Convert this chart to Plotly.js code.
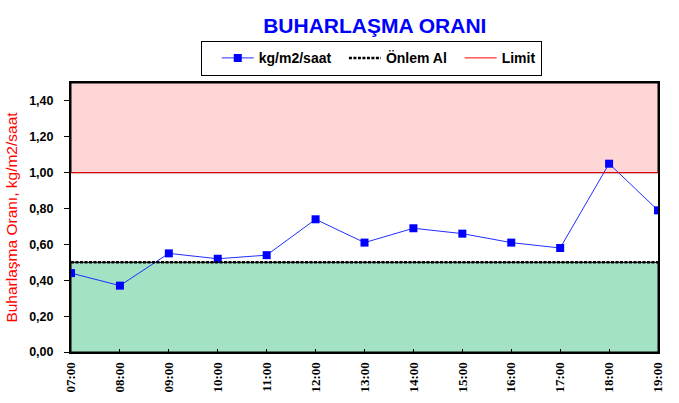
<!DOCTYPE html>
<html>
<head>
<meta charset="utf-8">
<script src="https://cdn.plot.ly/plotly-3.0.1.min.js"></script>
<style>
  html, body { margin: 0; padding: 0; background: #fff; }
  #chart { width: 679px; height: 403px; }
</style>
</head>
<body>
<div id="chart"></div>
<script>
// saatler ve ölçülen değerler
const hours = ['07:00', '08:00', '09:00', '10:00', '11:00', '12:00', '13:00',
               '14:00', '15:00', '16:00', '17:00', '18:00', '19:00']
const rate = [0.44, 0.37, 0.55, 0.52, 0.54, 0.74, 0.61, 0.69, 0.66, 0.61, 0.58, 1.05, 0.79]
const onlem = [0.5, 0.5, 0.5, 0.5, 0.5, 0.5, 0.5, 0.5, 0.5, 0.5, 0.5, 0.5, 0.5]
const limit = [1.0, 1.0, 1.0, 1.0, 1.0, 1.0, 1.0, 1.0, 1.0, 1.0, 1.0, 1.0, 1.0]
const safeBand = [0, 0.5]
const dangerBand = [1.0, 1.5]
const yTicks = [0, 0.2, 0.4, 0.6, 0.8, 1.0, 1.2, 1.4]

// lejant boşlukları için
const pad = '\u00a0\u00a0'

const traces = [
  {
    x: hours, y: rate, name: 'kg/m2/saat' + pad, type: 'scatter', mode: 'lines+markers',
    line: { color: '#1f2fff', width: 1 },
    marker: { color: '#0000ff', symbol: 'square', size: 8 }
  },
  {
    x: hours, y: onlem, name: 'Önlem Al' + pad, type: 'scatter', mode: 'lines',
    line: { color: '#000', width: 2.5, dash: '3px,1.5px' }
  },
  {
    x: hours, y: limit, name: 'Limit', type: 'scatter', mode: 'lines',
    line: { color: '#ff0000', width: 1 }
  }
]

const layout = {
  width: 679,
  height: 403,
  margin: { l: 71, r: 21, t: 83, b: 51 },
  paper_bgcolor: '#fff',
  plot_bgcolor: '#fff',
  separators: ',.',
  showlegend: true,
  title: {
    text: 'BUHARLAŞMA ORANI',
    font: { family: 'Liberation Sans, Arial, sans-serif', size: 21, color: '#0000ff', weight: 'bold' },
    x: 0.552, xanchor: 'center', y: 0.937, yanchor: 'middle'
  },
  legend: {
    orientation: 'h',
    x: 0.2215, xanchor: 'left',
    y: 1.155, yanchor: 'top',
    bordercolor: '#000', borderwidth: 1, bgcolor: '#fff',
    font: { family: 'Liberation Sans, Arial, sans-serif', size: 14, color: '#000', weight: 'bold' },
    title: { text: '\u00a0', side: 'left' },
    itemwidth: 32
  },
  xaxis: {
    type: 'category',
    range: [0, hours.length - 1],
    showgrid: false, zeroline: false,
    showline: true, linecolor: '#000', linewidth: 2, mirror: true,
    ticks: 'inside', ticklen: 3, tickcolor: '#000',
    tickangle: -90,
    ticklabelstandoff: 3,
    tickfont: { family: 'Liberation Serif, Times New Roman, serif', size: 13, color: '#000', weight: 'bold' }
  },
  yaxis: {
    range: [0, 1.5],
    tickvals: yTicks,
    tickformat: '.2f',
    showgrid: false, zeroline: false,
    showline: true, linecolor: '#000', linewidth: 2, mirror: true,
    ticks: 'outside', ticklen: 5, tickcolor: '#000',
    ticklabelstandoff: 8,
    tickfont: { family: 'Liberation Sans, Arial, sans-serif', size: 12.5, color: '#000', weight: 'bold' },
    title: {
      text: 'Buharlaşma Oranı, kg/m2/saat',
      font: { family: 'Liberation Sans, Arial, sans-serif', size: 15.5, color: '#ff0000' },
      standoff: 8
    }
  },
  shapes: [
    {
      type: 'rect', xref: 'paper', yref: 'y', layer: 'below',
      x0: 0, x1: 1, y0: safeBand[0], y1: safeBand[1],
      fillcolor: '#a3e2c2', line: { color: '#000', width: 1 }
    },
    {
      type: 'rect', xref: 'paper', yref: 'y', layer: 'below',
      x0: 0, x1: 1, y0: dangerBand[0], y1: dangerBand[1],
      fillcolor: '#ffd6d6', line: { color: '#000', width: 1 }
    }
  ]
}

Plotly.newPlot('chart', traces, layout, { displayModeBar: false, staticPlot: true })
</script>
</body>
</html>
